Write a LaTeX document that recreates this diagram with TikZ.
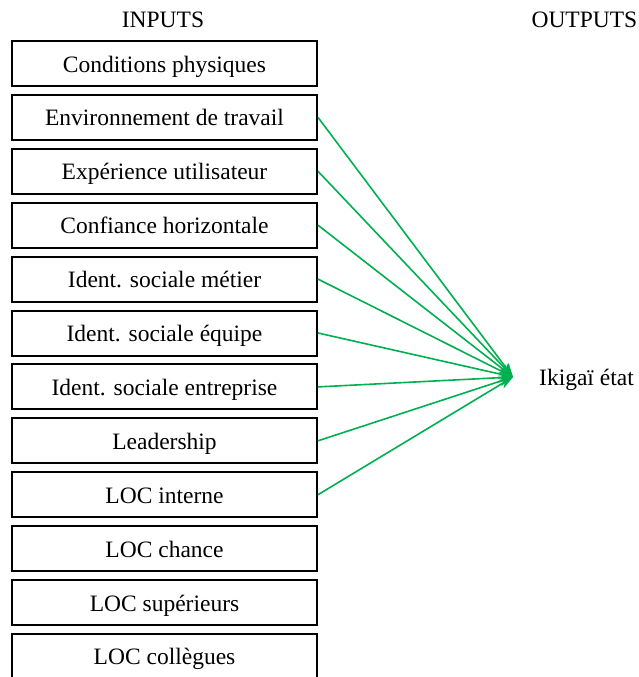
\documentclass[tikz,border=0pt]{standalone}
\usepackage{fontspec}
\setmainfont{Liberation Serif}
\usetikzlibrary{arrows.meta}
\definecolor{linkgreen}{RGB}{0,176,80}
\begin{document}
\begin{tikzpicture}[x=1pt,y=-1pt,
  inbox/.style={draw=black, line width=2pt, minimum width=305pt, minimum height=45pt,
                inner sep=0pt, text height=17pt, text depth=0pt,
                font=\fontsize{23.5}{28}\selectfont},
  head/.style={font=\fontsize{23.5}{28}\selectfont, inner sep=0pt,
               text height=17pt, text depth=0pt},
  link/.style={draw=linkgreen, line width=1.6pt, -{Stealth[length=14pt,width=10pt]}}]
\useasboundingbox (0,0) rectangle (638,677);
\node[head] (inputs) at (163,19) {INPUTS};
\node[head, anchor=east] (outputs) at (637.5,19) {OUTPUTS};
\foreach \t [count=\i] in {Conditions physiques, Environnement de travail,
  Expérience utilisateur, Confiance horizontale, Ident. sociale métier,
  Ident. sociale équipe, Ident. sociale entreprise, Leadership, LOC interne,
  LOC chance, LOC supérieurs, LOC collègues}
  \node[inbox] (b\i) at (164.5, {63.5+53.9*(\i-1)}) {\t};
\node[head, anchor=west] (ik) at (539,376.5) {Ikigaï état};
\coordinate (tip) at (513,377);
\foreach \i in {2,...,9}
  \draw[link] (b\i.east) -- (tip);
\end{tikzpicture}
\end{document}
